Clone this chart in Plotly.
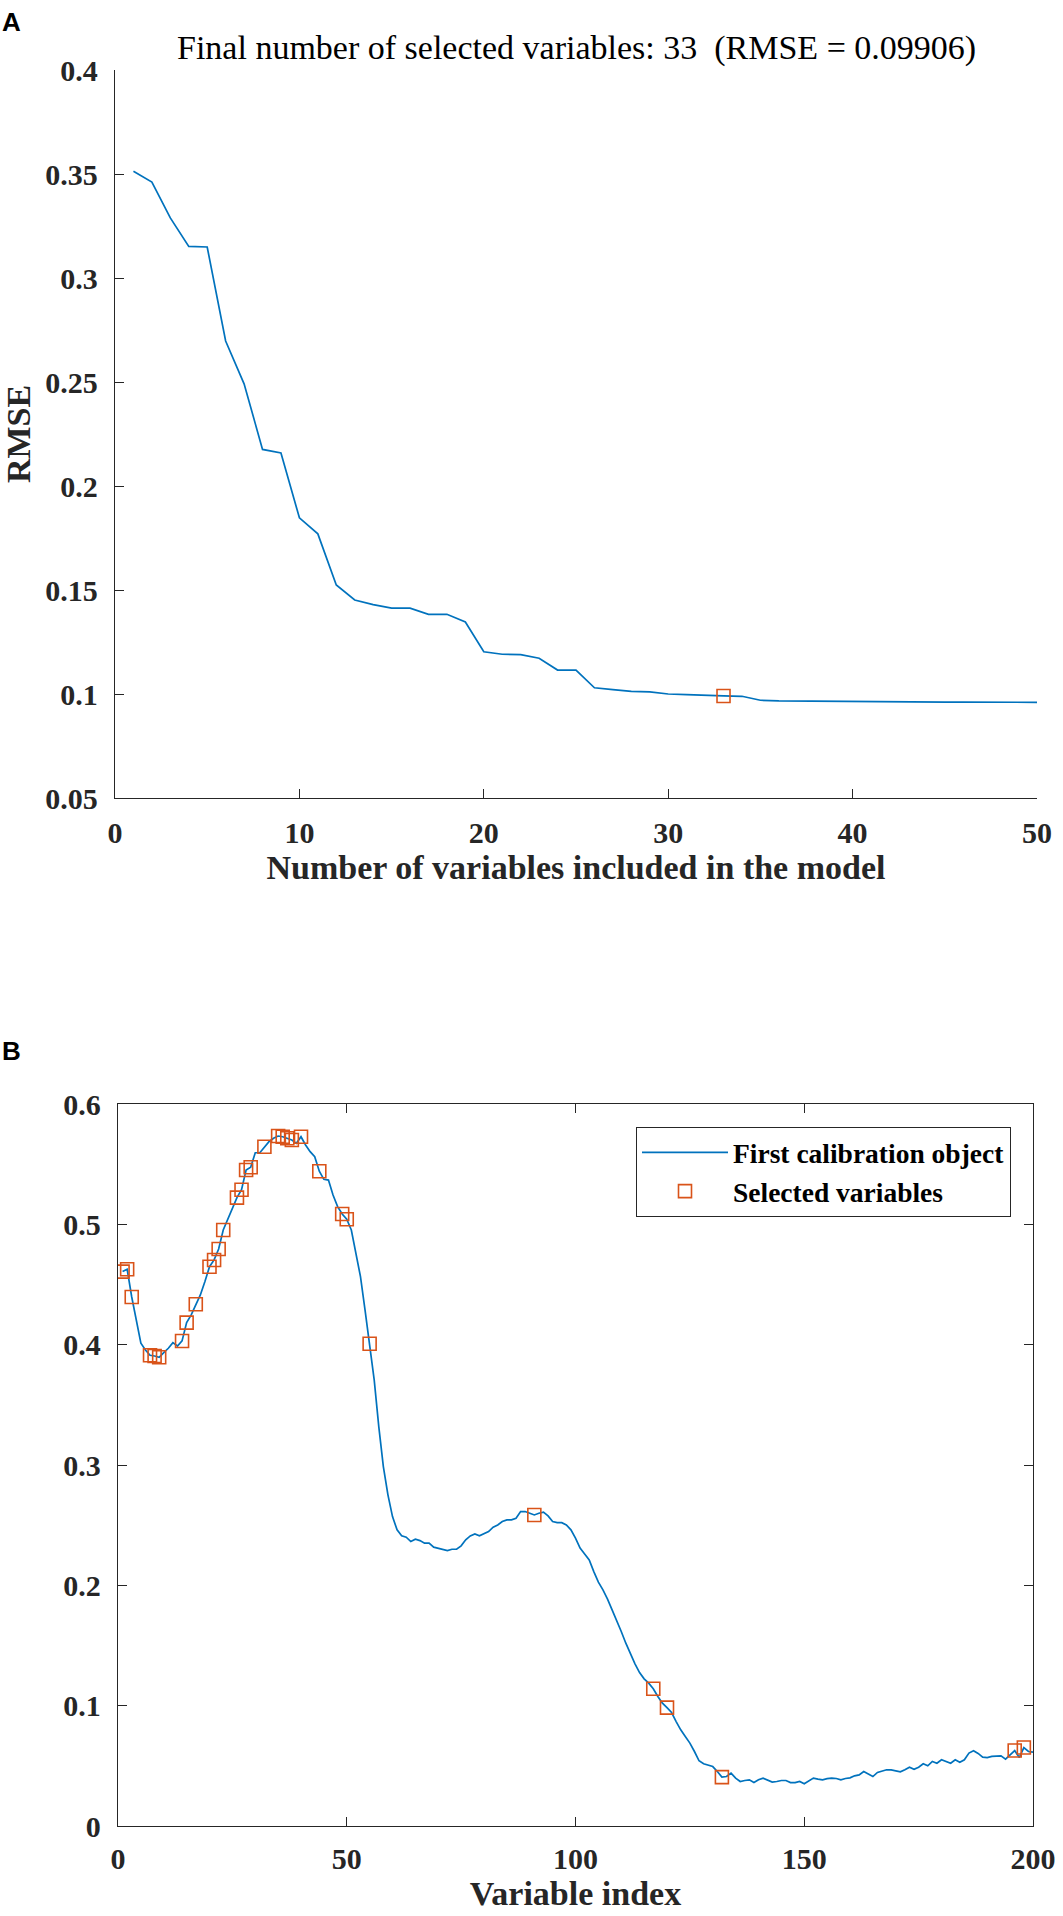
import plotly.graph_objects as go

# Panel A: RMSE vs number of variables
n_vars = list(range(1, 51))
rmse = [0.3513, 0.3461, 0.3289, 0.3152, 0.3149, 0.2697, 0.2491, 0.2176, 0.2159, 0.1847,
        0.1770, 0.1524, 0.1452, 0.1430, 0.1413, 0.1413, 0.1383, 0.1383, 0.1346, 0.1203,
        0.1191, 0.1189, 0.1172, 0.1115, 0.1115, 0.1030, 0.1021, 0.1013, 0.1010, 0.1000,
        0.0997, 0.0992, 0.09906, 0.0989, 0.0970, 0.0967, 0.0966, 0.0965, 0.0964, 0.0963,
        0.0963, 0.0962, 0.0962, 0.0962, 0.0961, 0.0961, 0.0961, 0.0960, 0.0960, 0.0960]
best_n = 33
best_rmse = 0.09906

# Panel B: first calibration object (spectrum) and selected variables
var_index = list(range(1, 201))
spectrum = [
    0.4607, 0.4627, 0.4396, 0.4205, 0.4012, 0.3956, 0.3912, 0.3906, 0.3895, 0.3934,
    0.3970, 0.4017, 0.3989, 0.4031, 0.4183, 0.4247, 0.4336, 0.4413, 0.4524, 0.4648,
    0.4704, 0.4795, 0.4953, 0.5042, 0.5125, 0.5222, 0.5288, 0.5451, 0.5474, 0.5595,
    0.5595, 0.5645, 0.5687, 0.5715, 0.5734, 0.5728, 0.5715, 0.5701, 0.5673, 0.5728,
    0.5659, 0.5604, 0.5562, 0.5441, 0.5374, 0.5368, 0.5244, 0.5147, 0.5086, 0.5042,
    0.4953, 0.4760, 0.4565, 0.4288, 0.4008, 0.3707, 0.3319, 0.2987, 0.2752, 0.2571,
    0.2461, 0.2411, 0.2400, 0.2364, 0.2383, 0.2372, 0.2350, 0.2350, 0.2317, 0.2309,
    0.2303, 0.2289, 0.2300, 0.2300, 0.2328, 0.2378, 0.2411, 0.2427, 0.2411, 0.2427,
    0.2447, 0.2483, 0.2502, 0.2530, 0.2544, 0.2544, 0.2558, 0.2613, 0.2613, 0.2599,
    0.2585, 0.2599, 0.2608, 0.2577, 0.2530, 0.2521, 0.2521, 0.2502, 0.2461, 0.2392,
    0.2309, 0.2261, 0.2211, 0.2114, 0.2026, 0.1962, 0.1886, 0.1796, 0.1713, 0.1616,
    0.1519, 0.1428, 0.1348, 0.1275, 0.1223, 0.1187, 0.1140, 0.1076, 0.1021, 0.0984,
    0.0943, 0.0868, 0.0799, 0.0744, 0.0689, 0.0619, 0.0542, 0.0517, 0.0508, 0.0494,
    0.0453, 0.0406, 0.0411, 0.0439, 0.0398, 0.0370, 0.0378, 0.0384, 0.0361, 0.0384,
    0.0398, 0.0378, 0.0365, 0.0370, 0.0378, 0.0378, 0.0361, 0.0361, 0.0370, 0.0351,
    0.0378, 0.0398, 0.0390, 0.0384, 0.0393, 0.0398, 0.0395, 0.0384, 0.0395, 0.0400,
    0.0417, 0.0425, 0.0453, 0.0434, 0.0411, 0.0445, 0.0453, 0.0467, 0.0467, 0.0461,
    0.0450, 0.0467, 0.0489, 0.0472, 0.0489, 0.0517, 0.0500, 0.0536, 0.0522, 0.0550,
    0.0536, 0.0522, 0.0550, 0.0530, 0.0550, 0.0606, 0.0625, 0.0603, 0.0572, 0.0569,
    0.0578, 0.0583, 0.0583, 0.0556, 0.0592, 0.0627, 0.0569, 0.0652, 0.0619, 0.0614]
selected = [1, 2, 3, 7, 8, 9, 14, 15, 17, 20, 21, 22, 23, 26, 27, 28, 29, 32, 35, 36, 37,
            38, 40, 44, 49, 50, 55, 91, 117, 120, 132, 196, 198]
selected_vals = [spectrum[i - 1] for i in selected]

W, H = 1063, 1916
BLUE = '#0072BD'
ORANGE = '#D95319'
AXC = '#262626'
SERIF = 'Liberation Serif'

fig = go.Figure()

fig.add_trace(go.Scatter(x=n_vars, y=rmse, mode='lines', line=dict(color=BLUE, width=1.7),
                         showlegend=False, xaxis='x', yaxis='y'))
fig.add_trace(go.Scatter(x=[best_n], y=[best_rmse], mode='markers',
                         marker=dict(symbol='square-open', size=13, color=ORANGE, line=dict(width=1.6)),
                         showlegend=False, xaxis='x', yaxis='y'))

fig.add_trace(go.Scatter(x=var_index, y=spectrum, mode='lines', line=dict(color=BLUE, width=1.7),
                         name='First calibration object', xaxis='x2', yaxis='y2'))
fig.add_trace(go.Scatter(x=selected, y=selected_vals, mode='markers',
                         marker=dict(symbol='square-open', size=13, color=ORANGE, line=dict(width=1.6)),
                         name='Selected variables', xaxis='x2', yaxis='y2'))

tick_font = dict(family=SERIF, size=30, color=AXC, weight='bold')
title_font = dict(family=SERIF, size=34, color=AXC, weight='bold')
axis_common = dict(showline=True, linecolor=AXC, linewidth=1.3, ticks='inside', ticklen=9,
                   tickwidth=1.3, tickcolor=AXC, showgrid=False, zeroline=False,
                   tickfont=tick_font, automargin=False)

fig.update_layout(
    width=W, height=H,
    paper_bgcolor='white', plot_bgcolor='white',
    margin=dict(l=0, r=0, t=0, b=0),
    xaxis=dict(domain=[115 / W, 1037 / W], range=[0, 50], tickvals=[0, 10, 20, 30, 40, 50],
               anchor='y', ticklabelstandoff=8,
               title=dict(text='Number of variables included in the model', font=title_font, standoff=6),
               **axis_common),
    yaxis=dict(domain=[1 - 798 / H, 1 - 70 / H], range=[0.05, 0.4],
               tickvals=[0.05, 0.1, 0.15, 0.2, 0.25, 0.3, 0.35, 0.4],
               ticktext=['0.05', '0.1', '0.15', '0.2', '0.25', '0.3', '0.35', '0.4'],
               anchor='x', ticklabelstandoff=10,
               title=dict(text='RMSE', font=title_font, standoff=10),
               **axis_common),
    xaxis2=dict(domain=[118 / W, 1033 / W], range=[0, 200], tickvals=[0, 50, 100, 150, 200],
                anchor='y2', mirror='ticks', ticklabelstandoff=6,
                title=dict(text='Variable index', font=title_font, standoff=0),
                **axis_common),
    yaxis2=dict(domain=[1 - 1826 / H, 1 - 1104 / H], range=[0, 0.6],
                tickvals=[0, 0.1, 0.2, 0.3, 0.4, 0.5, 0.6],
                ticktext=['0', '0.1', '0.2', '0.3', '0.4', '0.5', '0.6'],
                anchor='x2', mirror='ticks', ticklabelstandoff=10,
                **axis_common),
    legend=dict(x=1011 / W, y=1 - 1127 / H, xanchor='right', yanchor='top',
                bgcolor='white', bordercolor=AXC, borderwidth=1,
                font=dict(family=SERIF, size=27.5, color='black', weight='bold'),
                itemwidth=86, tracegroupgap=0),
    annotations=[
        dict(text='Final number of selected variables: 33  (RMSE = 0.09906)',
             x=576 / W, y=1 - 48 / H, xref='paper', yref='paper', showarrow=False,
             xanchor='center', yanchor='middle', font=dict(family=SERIF, size=34, color='black')),
        dict(text='<b>A</b>', x=0, y=1 - 5 / H, xref='paper', yref='paper', showarrow=False,
             xanchor='left', yanchor='top', font=dict(family='Liberation Sans', size=26, color='black')),
        dict(text='<b>B</b>', x=0, y=1 - 1034 / H, xref='paper', yref='paper', showarrow=False,
             xanchor='left', yanchor='top', font=dict(family='Liberation Sans', size=26, color='black')),
    ],
)

# drop the default page margin so the figure fills the window exactly
fig.write_html('out.html', config={'displayModeBar': False},
               post_script="document.body.style.margin='0';document.body.style.overflow='hidden';")
